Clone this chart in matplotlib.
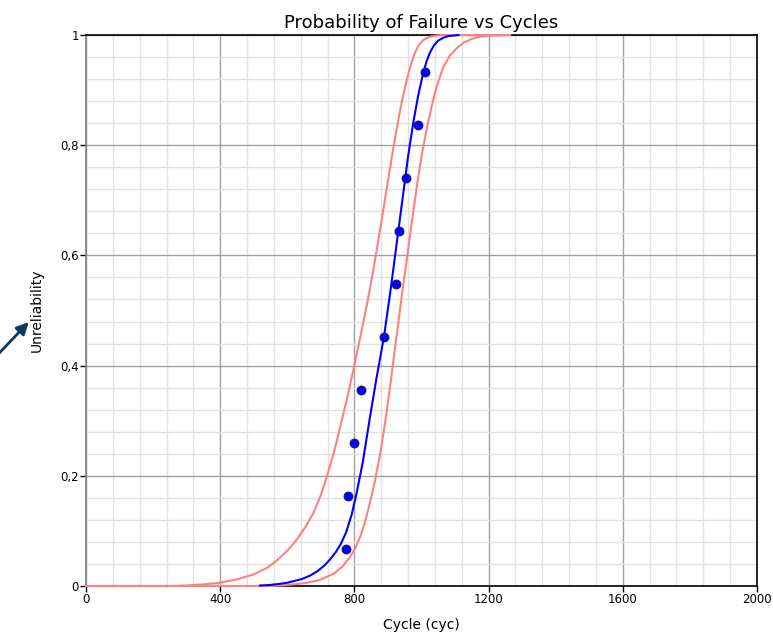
import matplotlib
matplotlib.use("Agg")
import matplotlib.pyplot as plt
from matplotlib.ticker import MultipleLocator

# Failure data (median ranks)
cycles = [775, 782, 800, 820, 888, 924, 933, 953, 990, 1011]
unrel = [0.067, 0.163, 0.260, 0.356, 0.452, 0.548, 0.644, 0.740, 0.837, 0.933]

# Fitted line
fit_x = [519, 550, 578, 600, 620, 645, 668, 690, 710, 727, 745, 760, 775, 792,
         807, 825, 846, 866, 888, 905, 916, 931, 945, 960, 976, 990, 1005, 1015,
         1025, 1037, 1050, 1065, 1080, 1110]
fit_y = [0.001, 0.002, 0.004, 0.006, 0.009, 0.013, 0.019, 0.027, 0.037, 0.048,
         0.062, 0.077, 0.097, 0.130, 0.170, 0.225, 0.305, 0.378, 0.452, 0.525,
         0.575, 0.645, 0.710, 0.780, 0.843, 0.890, 0.931, 0.952, 0.968, 0.981,
         0.990, 0.995, 0.998, 1.0]

# Upper confidence bound
up_x = [0, 250, 300, 350, 399, 450, 499, 540, 568, 600, 628, 655, 678, 700, 717,
        740, 760, 780, 797, 822, 841, 861, 876, 896, 916, 930, 941, 956, 966, 980,
        990, 1005, 1025, 1045, 1060, 1264]
up_y = [0.0, 0.0, 0.001, 0.003, 0.006, 0.012, 0.021, 0.033, 0.046, 0.064, 0.084,
        0.108, 0.133, 0.165, 0.197, 0.245, 0.295, 0.345, 0.393, 0.465, 0.522,
        0.590, 0.645, 0.720, 0.795, 0.843, 0.878, 0.918, 0.942, 0.967, 0.980,
        0.991, 0.997, 0.999, 1.0, 1.0]

# Lower confidence bound
lo_x = [0, 550, 600, 650, 697, 740, 765, 787, 803, 817, 831, 846, 861, 876, 891,
        906, 918, 931, 943, 956, 971, 986, 1000, 1015, 1030, 1045, 1065, 1085,
        1105, 1125, 1150, 1174, 1210, 1264]
lo_y = [0.0, 0.0, 0.002, 0.005, 0.011, 0.023, 0.036, 0.053, 0.069, 0.089, 0.115,
        0.150, 0.190, 0.237, 0.295, 0.360, 0.418, 0.478, 0.535, 0.592, 0.660,
        0.725, 0.780, 0.828, 0.870, 0.906, 0.942, 0.963, 0.976, 0.986, 0.993,
        0.997, 0.999, 1.0]

xticks = [0, 400, 800, 1200, 1600, 2000]
yticks = [0, 0.2, 0.4, 0.6, 0.8, 1.0]
ylabels = ["0", "0,2", "0,4", "0,6", "0,8", "1"]

fig = plt.figure(figsize=(7.73, 6.33), dpi=100)
ax = fig.add_axes([0.1113, 0.0742, 0.868, 0.8705])

pink = "#ff8080"
ax.plot(up_x, up_y, color=pink, lw=1.5, zorder=3, clip_on=False)
ax.plot(lo_x, lo_y, color=pink, lw=1.5, zorder=3, clip_on=False)
ax.plot(fit_x, fit_y, color="#0000ff", lw=1.5, zorder=4, clip_on=False)
ax.plot(cycles, unrel, "o", color="#0000ff", markeredgecolor="#202040",
        markeredgewidth=0.6, markersize=6.5, zorder=5, clip_on=False)

ax.set_xlim(0, 2000)
ax.set_ylim(0, 1)
ax.set_xticks(xticks)
ax.set_yticks(yticks)
ax.set_yticklabels(ylabels)
ax.xaxis.set_minor_locator(MultipleLocator(80))
ax.yaxis.set_minor_locator(MultipleLocator(0.04))
ax.tick_params(which="major", length=4, width=1, labelsize=8.5, pad=1)
ax.tick_params(which="minor", length=0)
ax.grid(which="major", color="#a0a0a0", lw=1)
ax.grid(which="minor", color="#e2e2e2", lw=1)
ax.set_axisbelow(True)

ax.spines["left"].set_color("#808080")
for s in ["top", "bottom", "right"]:
    ax.spines[s].set_color("#000000")
for s in ax.spines.values():
    s.set_linewidth(1.2)

ax.set_title("Probability of Failure vs Cycles", fontsize=13, pad=5)
ax.set_xlabel("Cycle (cyc)", fontsize=10, labelpad=9)
ax.set_ylabel("Unreliability", fontsize=10, labelpad=12)

# arrow pointing at the y label
fig.add_artist(matplotlib.patches.FancyArrowPatch(
    (-0.005, 0.437), (0.0397, 0.4945), transform=fig.transFigure,
    arrowstyle="-|>", mutation_scale=18, lw=2, color="#0d3b5e"))

fig.savefig("out.png", dpi=100)
